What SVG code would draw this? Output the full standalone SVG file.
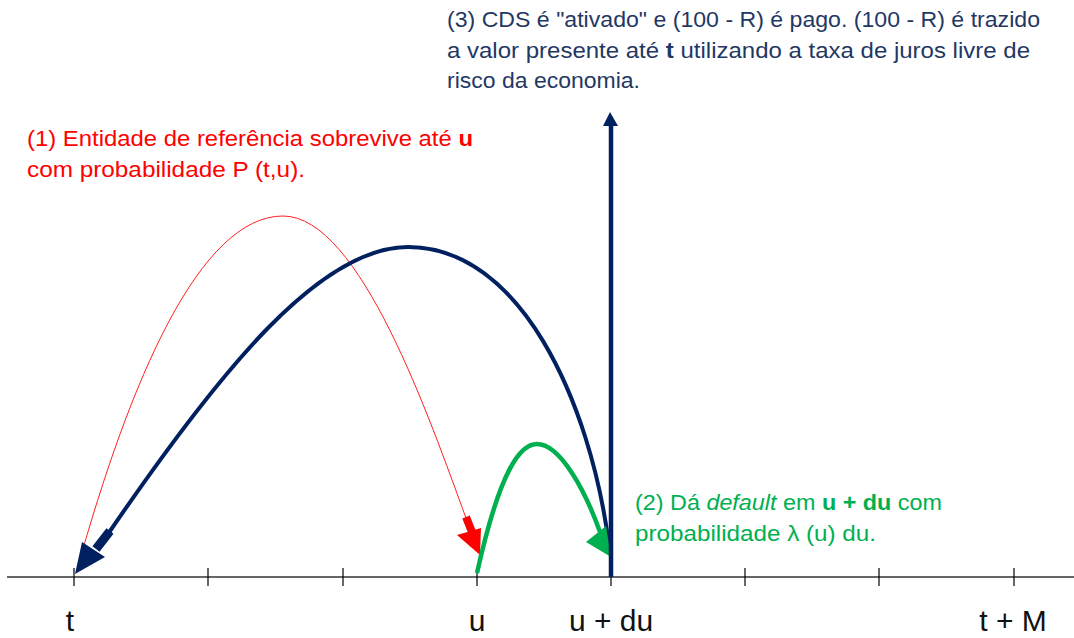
<svg xmlns="http://www.w3.org/2000/svg" width="1074" height="638" viewBox="0 0 1074 638">
<style>
text{font-family:"Liberation Sans",Arial,sans-serif;}
.lbl{font-size:22px;}
.ax{font-size:30px;fill:#111;text-anchor:middle;}
.red{fill:#ff0000;}
.green{fill:#00b050;}
.tick{stroke:#000;stroke-width:1.2;}
</style>
<rect width="1074" height="638" fill="#fff"/>
<g id="axis">
<line x1="7" y1="577" x2="1074" y2="577" stroke="#666" stroke-width="2"/>
<line class="tick" x1="74" y1="568" x2="74" y2="586"/>
<line class="tick" x1="208" y1="568" x2="208" y2="586"/>
<line class="tick" x1="343" y1="568" x2="343" y2="586"/>
<line class="tick" x1="477" y1="568" x2="477" y2="586"/>
<line class="tick" x1="611" y1="568" x2="611" y2="586"/>
<line class="tick" x1="745" y1="568" x2="745" y2="586"/>
<line class="tick" x1="879" y1="568" x2="879" y2="586"/>
<line class="tick" x1="1014" y1="568" x2="1014" y2="586"/>
<text class="ax" x="70" y="631">t</text>
<text class="ax" x="477" y="631">u</text>
<text class="ax" x="611" y="631">u + du</text>
<text class="ax" x="1013" y="631">t + M</text>
</g>
<g id="connectors">
<g id="red-arrow">
<path d="M77,570 C130,380 200,216 283,216 C360,216 430,420 466,518" fill="none" stroke="#ff2020" stroke-width="1"/>
<line x1="466" y1="517" x2="472" y2="532" stroke="#ff0000" stroke-width="8"/>
<polygon points="480,555 457,535 481,528" fill="#ff0000"/>
</g>
<g id="navy-arrow">
<path d="M609,545 C590,400 520,247 408,247 C320,247 220,370 108,534" fill="none" stroke="#002060" stroke-width="4"/>
<line x1="110" y1="531" x2="96" y2="549" stroke="#002060" stroke-width="9"/>
<polygon points="75,574 82,542 105,557" fill="#002060"/>
</g>
<g id="green-arrow">
<path d="M477,573 C500,470 520,444 537,444 C560,444 585,490 600,532" fill="none" stroke="#00b050" stroke-width="4.5"/>
<polygon points="611,557 586,542 606,526" fill="#00b050"/>
</g>
<g id="vertical-arrow">
<line x1="611" y1="577" x2="611" y2="124" stroke="#002060" stroke-width="4.5"/>
<polygon points="610,112 603,126 618,126" fill="#002060"/>
</g>
</g>
<g id="label3">
<text class="lbl" fill="#1f3864" x="447" y="27" textLength="593" lengthAdjust="spacingAndGlyphs">(3) CDS é "ativado" e (100 - R) é pago. (100 - R) é trazido</text>
<text class="lbl" fill="#1f3864" x="447" y="58" textLength="583" lengthAdjust="spacingAndGlyphs">a valor presente até <tspan font-weight="bold">t</tspan> utilizando a taxa de juros livre de</text>
<text class="lbl" fill="#1f3864" x="447" y="88" textLength="193" lengthAdjust="spacingAndGlyphs">risco da economia.</text>
</g>
<g id="label1">
<text class="lbl red" x="27" y="146" textLength="446" lengthAdjust="spacingAndGlyphs">(1) Entidade de referência sobrevive até <tspan font-weight="bold">u</tspan></text>
<text class="lbl red" x="27" y="177" textLength="278" lengthAdjust="spacingAndGlyphs">com probabilidade P (t,u).</text>
</g>
<g id="label2">
<text class="lbl green" x="635" y="510" textLength="307" lengthAdjust="spacingAndGlyphs">(2) Dá <tspan font-style="italic">default</tspan> em <tspan font-weight="bold">u + du</tspan> com</text>
<text class="lbl green" x="635" y="541" textLength="241" lengthAdjust="spacingAndGlyphs">probabilidade λ (u) du.</text>
</g>
</svg>
